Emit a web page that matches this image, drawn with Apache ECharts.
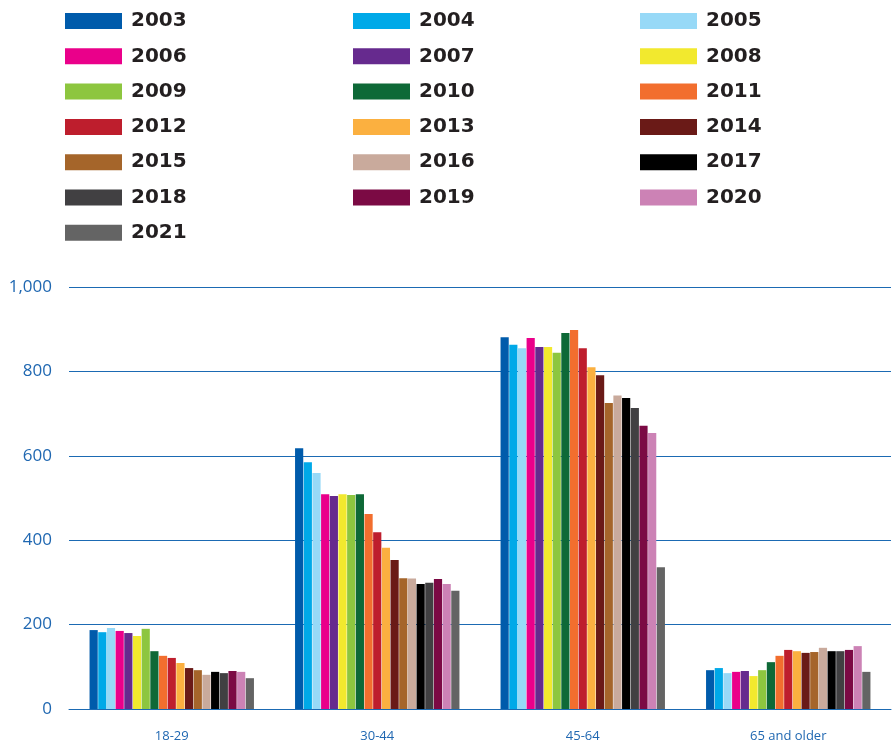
<!DOCTYPE html>
<html>
<head>
<meta charset="utf-8">
<script src="https://cdn.jsdelivr.net/npm/echarts@6/dist/echarts.min.js"></script>
<style>
html,body{margin:0;padding:0;background:#fff;}
#chart{width:893px;height:744px;}
</style>
</head>
<body>
<div id="chart"></div>
<script>
var categories = ['18-29', '30-44', '45-64', '65 and older'];
var years = ['2003','2004','2005','2006','2007','2008','2009','2010','2011','2012','2013','2014','2015','2016','2017','2018','2019','2020','2021'];
var colors = ['#005bab','#00a9e8','#97d9f7','#ea008a','#662a8e','#f2e92e','#8dc63f','#0e6937','#f26e2e','#be1e2d','#fbb040','#6a1a17','#a5652a','#c9aa9c','#000000','#414042','#7b0a44','#cc82b5','#646464'];

var v2003 = [187, 618, 881, 92];
var v2004 = [182, 585, 863, 97];
var v2005 = [192, 559, 855, 85];
var v2006 = [185, 509, 879, 88];
var v2007 = [180, 505, 858, 90];
var v2008 = [173, 509, 858, 78];
var v2009 = [190, 507, 844, 92];
var v2010 = [137, 509, 891, 111];
var v2011 = [126, 462, 898, 126];
var v2012 = [121, 419, 855, 140];
var v2013 = [109, 382, 810, 137];
var v2014 = [97, 353, 791, 133];
var v2015 = [92, 310, 725, 135];
var v2016 = [81, 309, 743, 145];
var v2017 = [88, 296, 737, 137];
var v2018 = [85, 299, 713, 137];
var v2019 = [90, 308, 671, 140];
var v2020 = [88, 296, 654, 149];
var v2021 = [73, 280, 336, 88];
var seriesValues = [v2003,v2004,v2005,v2006,v2007,v2008,v2009,v2010,v2011,v2012,v2013,v2014,v2015,v2016,v2017,v2018,v2019,v2020,v2021];

var yTicks = [0, 200, 400, 600, 800, 1000];

var chart = echarts.init(document.getElementById('chart'), null, {renderer: 'canvas'});

var series = years.map(function (y, i) {
  return {
    name: y,
    type: 'bar',
    data: seriesValues[i],
    itemStyle: {color: colors[i]},
    barGap: '6%',
    barCategoryGap: '20%'
  };
});

function legendCol(startIdx, left) {
  var d = [];
  for (var i = startIdx; i < years.length; i += 3) d.push(years[i]);
  return {
    orient: 'vertical',
    left: left,
    top: 11,
    padding: 0,
    icon: 'rect',
    itemWidth: 57,
    itemHeight: 16,
    itemGap: 15.3,
    selectedMode: false,
    data: d,
    textStyle: {
      fontFamily: 'DejaVu Sans',
      fontWeight: 'bold',
      fontSize: 20,
      color: '#231f20',
      padding: [0, 0, 0, 4]
    }
  };
}

chart.setOption({
  animation: false,
  color: colors,
  legend: [legendCol(0, 65), legendCol(1, 353), legendCol(2, 640)],
  grid: {left: 69, right: 2, top: 287, bottom: 35, containLabel: false},
  xAxis: {
    type: 'category',
    data: categories,
    axisTick: {show: false},
    axisLine: {show: true, lineStyle: {color: '#1b6ab3', width: 1}},
    axisLabel: {
      color: '#1f67b1',
      fontFamily: 'Open Sans',
      fontSize: 13,
      margin: 21
    }
  },
  yAxis: {
    type: 'value',
    min: yTicks[0],
    max: yTicks[yTicks.length - 1],
    interval: 200,
    axisLine: {show: false},
    axisTick: {show: false},
    splitLine: {lineStyle: {color: '#1b6ab3', width: 1}},
    axisLabel: {
      color: '#1f67b1',
      fontFamily: 'Open Sans',
      fontSize: 17,
      margin: 17,
      formatter: function (v) { return v.toLocaleString('en-US'); }
    }
  },
  series: series
});
</script>
</body>
</html>
